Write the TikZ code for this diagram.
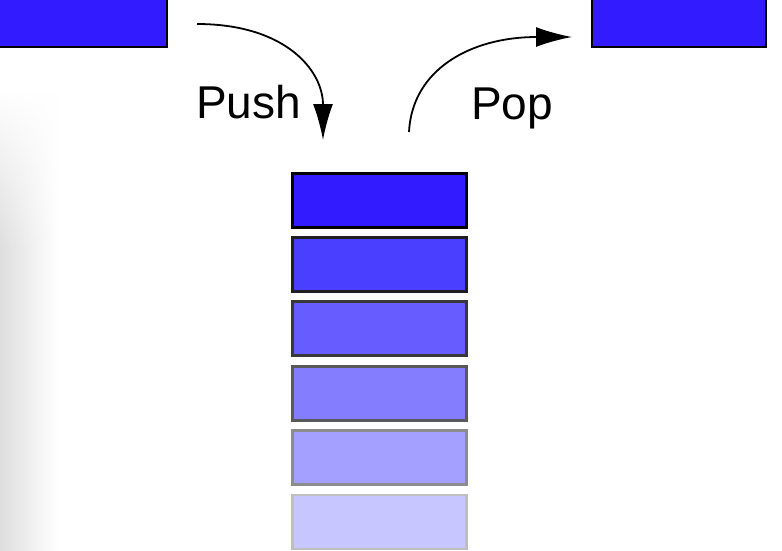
\documentclass[tikz,border=0pt]{standalone}
\usepackage{fontspec}
\setmainfont{Liberation Sans}
\usetikzlibrary{arrows.meta,fadings}
\definecolor{c1}{RGB}{50,28,255}
\definecolor{c2}{RGB}{74,62,255}
\definecolor{c3}{RGB}{102,92,255}
\definecolor{c4}{RGB}{132,126,255}
\definecolor{c5}{RGB}{163,160,255}
\definecolor{c6}{RGB}{200,198,255}
\tikzset{
  blk/.style={draw=#1, line width=2.2pt, rectangle, minimum width=174pt, minimum height=54pt, inner sep=0pt},
  flow/.style={line width=1.8pt, -{Latex[length=36pt,width=20pt]}},
  lbl/.style={font=\fontsize{46}{50}\selectfont, anchor=base west, inner sep=0pt}
}
\begin{document}
\begin{tikzpicture}[x=1pt,y=-1pt]
\useasboundingbox (0,0) rectangle (782,550);
\fill[white] (0,0) rectangle (782,550);
\clip (0,0) rectangle (782,550);
% left shadow
\shade[left color=black!13, right color=white] (0,250) rectangle (58,550);
\begin{scope}
\shade[left color=black!13, right color=white, path fading=north] (0,90) rectangle (58,250);
\end{scope}
% top boxes
\node[blk=black, fill=c1, minimum width=176pt, minimum height=56pt] (inbox) at (79,19) {};
\node[blk=black, fill=c1, minimum width=174pt, minimum height=56pt] (outbox) at (679,19) {};
% stack
\node[blk=black, fill=c1] (s1) at (379.5,200.5) {};
\node[blk=black!88, fill=c2] (s2) at (379.5,264.5) {};
\node[blk=black!78, fill=c3] (s3) at (379.5,328.5) {};
\node[blk=black!65, fill=c4] (s4) at (379.5,393.5) {};
\node[blk=black!45, fill=c5] (s5) at (379.5,457.5) {};
\node[blk=black!25, fill=c6] (s6) at (379.5,522) {};
% arrows
\coordinate (pushA) at (197,24);
\coordinate (pushB) at (323,140);
\coordinate (popA) at (409,132);
\coordinate (popB) at (572,37);
\draw[flow] (pushA) .. controls (285,24) and (323,70) .. (pushB);
\draw[flow] (popA) .. controls (412,70) and (470,37) .. (popB);
% labels
\node[lbl] (push) at (196,118) {Push};
\node[lbl] (pop) at (471,119) {Pop};
\end{tikzpicture}
\end{document}
